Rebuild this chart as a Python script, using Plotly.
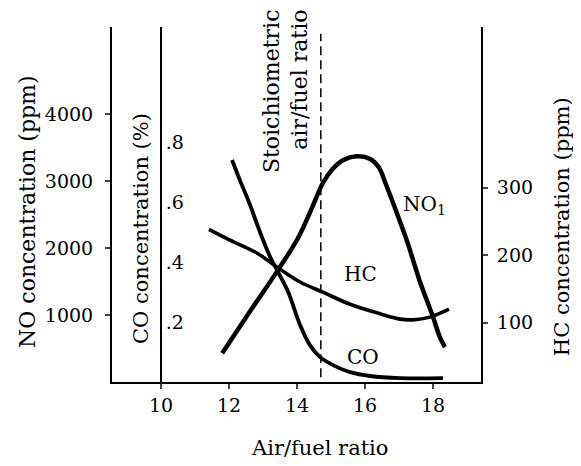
import plotly.graph_objects as go

# ---- data ----
no_afr = [11.8, 12.6, 13.4, 14.03, 14.44, 14.76, 15.03, 15.35, 15.75, 16.15, 16.4, 16.6, 16.9, 17.25, 17.6, 18.0, 18.2, 18.35]
no_ppm = [430, 1040, 1640, 2150, 2600, 2970, 3170, 3310, 3370, 3330, 3210, 2970, 2570, 2080, 1520, 970, 670, 520]

co_afr = [12.09, 12.32, 12.62, 12.91, 13.21, 13.44, 13.74, 14.09, 14.38, 14.68, 15.12, 15.56, 16.15, 17.03, 18.29]
co_pct = [0.74, 0.673, 0.59, 0.50, 0.417, 0.367, 0.30, 0.19, 0.123, 0.083, 0.053, 0.033, 0.02, 0.013, 0.013]

hc_afr = [11.41, 12.03, 12.82, 13.44, 14.09, 14.76, 15.56, 16.44, 17.03, 17.41, 17.91, 18.21, 18.47]
hc_ppm = [238, 222, 203, 181, 160, 145, 127, 113, 105, 104, 108, 114, 120]

x_ticks = [10, 12, 14, 16, 18]
no_ticks = [1000, 2000, 3000, 4000]
co_ticks = [0.2, 0.4, 0.6, 0.8]
co_ticktext = [".2", ".4", ".6", ".8"]
hc_ticks = [100, 200, 300]
stoich_afr = 14.7

FONT = "DejaVu Serif"
fig = go.Figure()

fig.add_trace(go.Scatter(x=no_afr, y=no_ppm, mode="lines",
                         line=dict(color="black", width=4.5, shape="spline", smoothing=1),
                         yaxis="y", showlegend=False))
fig.add_trace(go.Scatter(x=co_afr, y=co_pct, mode="lines",
                         line=dict(color="black", width=3.8, shape="spline", smoothing=1),
                         yaxis="y2", showlegend=False))
fig.add_trace(go.Scatter(x=hc_afr, y=hc_ppm, mode="lines",
                         line=dict(color="black", width=3.6, shape="spline", smoothing=1),
                         yaxis="y3", showlegend=False))

fig.add_shape(type="line", xref="x", yref="y", x0=stoich_afr, x1=stoich_afr, y0=70, y1=5200,
              line=dict(color="black", width=1.5, dash="9px,5px"))

tickfont = dict(family=FONT, size=19, color="black")
fig.update_layout(
    width=573, height=458, autosize=False,
    margin=dict(l=104, r=100, t=19, b=84),
    plot_bgcolor="white", paper_bgcolor="white",
    font=dict(family=FONT, color="black"),
    xaxis=dict(range=[8.56, 19.41], tickvals=x_ticks, ticks="outside", ticklen=5, tickwidth=1.5,
               showline=True, linewidth=2, linecolor="black", showgrid=False, zeroline=False,
               tickfont=tickfont),
    yaxis=dict(range=[0, 5299], tickvals=no_ticks, ticks="outside", ticklen=5, tickwidth=1.5,
               ticklabelstandoff=8,
               showline=True, linewidth=2, linecolor="black", showgrid=False, zeroline=False,
               tickfont=tickfont),
    yaxis2=dict(range=[0, 1.1833], tickvals=co_ticks, ticktext=co_ticktext, ticks="",
                overlaying="y", anchor="free", position=0.1328, side="right",
                showline=True, linewidth=2, linecolor="black", showgrid=False, zeroline=False,
                tickfont=tickfont),
    yaxis3=dict(range=[11.9, 537.8], tickvals=hc_ticks, ticks="outside", ticklen=5, tickwidth=1.5,
                ticklabelstandoff=5,
                overlaying="y", anchor="x", side="right",
                showline=True, linewidth=2, linecolor="black", showgrid=False, zeroline=False,
                tickfont=tickfont),
)

ann = [
    dict(text="NO concentration (ppm)", x=-0.2276, y=0.479, textangle=-90, size=22),
    dict(text="CO concentration (%)", x=0.0786, y=0.431, textangle=-90, size=21),
    dict(text="HC concentration (ppm)", x=1.2195, y=0.439, textangle=-90, size=21),
    dict(text="Air/fuel ratio", x=0.561, y=-0.186, textangle=0, size=21),
]
for a in ann:
    sz = a.pop("size")
    fig.add_annotation(xref="paper", yref="paper", showarrow=False,
                       font=dict(family=FONT, size=sz, color="black"),
                       xanchor="center", yanchor="middle", **a)

fig.add_annotation(xref="paper", yref="paper", x=0.4715, y=1.056, xanchor="center", yanchor="top",
                   text="Stoichiometric<br>air/fuel ratio", textangle=-90, align="right",
                   showarrow=False, font=dict(family=FONT, size=22, color="black"))

lf = dict(family=FONT, size=20, color="black")
fig.add_annotation(xref="x", yref="y", x=17.76, y=2642, text="NO<sub>1</sub>", showarrow=False, font=lf)
fig.add_annotation(xref="x", yref="y", x=15.88, y=1612, text="HC", showarrow=False, font=lf)
fig.add_annotation(xref="x", yref="y", x=15.94, y=373, text="CO", showarrow=False, font=lf)

fig.write_html("out.html")
